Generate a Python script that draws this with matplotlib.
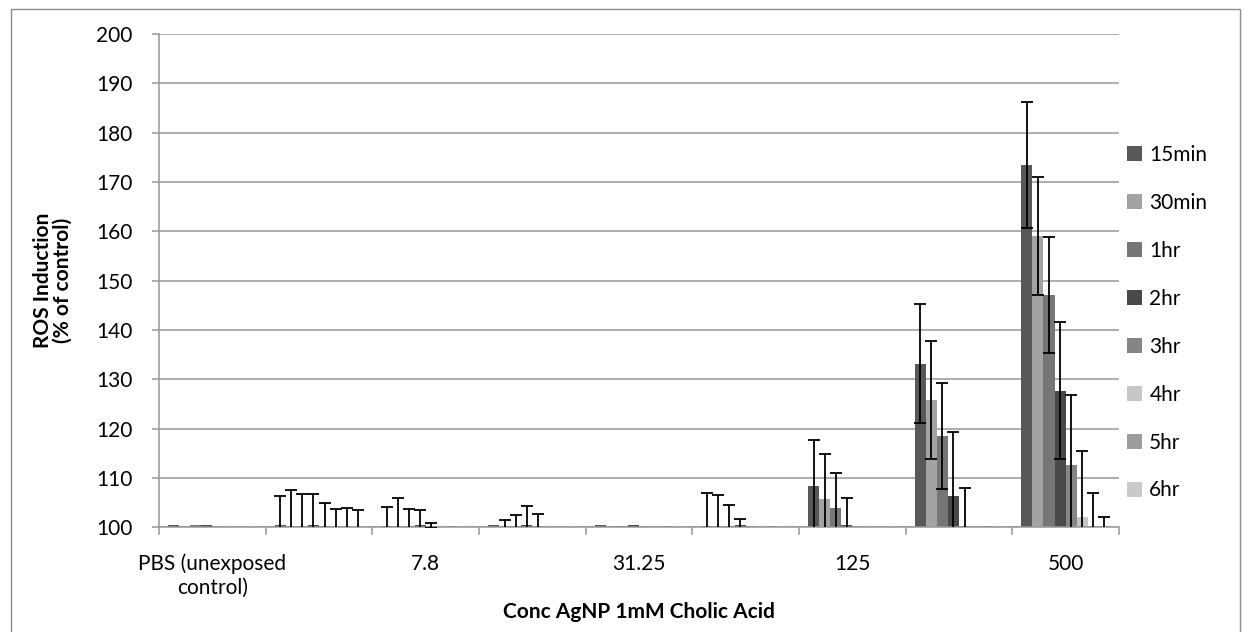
import numpy as np
import matplotlib.pyplot as plt
from matplotlib.patches import Rectangle

plt.rcParams['font.family'] = ['Lato', 'DejaVu Sans']

# categories (only every other label is shown in the original chart)
categories = ['PBS (unexposed\ncontrol)', '', '7.8', '', '31.25', '', '125', '', '500']
series = ['15min', '30min', '1hr', '2hr', '3hr', '4hr', '5hr', '6hr']
colors = ['#585858', '#a3a3a3', '#767676', '#494949', '#858585', '#c6c6c6', '#9c9c9c', '#c9c9c9']

# values (% of control), one list per time point
v_15min = [100.4, 100.4, 100.3, 100.5, 100.4, 100.3, 108.4, 133.2, 173.4]
v_30min = [100.3, 100.3, 100.3, 100.3, 100.3, 100.3, 105.7, 125.8, 159.1]
v_1hr = [100.4, 100.3, 100.3, 100.3, 100.3, 100.3, 104.0, 118.5, 147.1]
v_2hr = [100.4, 100.4, 100.4, 100.4, 100.5, 100.4, 100.4, 106.3, 127.7]
v_3hr = [100.3, 100.3, 100.3, 100.3, 100.3, 100.3, 100.3, 100.3, 112.7]
v_4hr = [100.3, 100.3, 100.3, 100.3, 100.3, 100.3, 100.3, 100.3, 102.0]
v_5hr = [100.3, 100.3, 100.3, 100.3, 100.3, 100.3, 100.3, 100.3, 100.3]
v_6hr = [100.3, 100.3, 100.3, 100.3, 100.3, 100.3, 100.3, 100.3, 100.3]

# error bar sizes
e_15min = [0, 5.9, 3.9, 0, 0, 6.6, 9.2, 12.1, 12.8]
e_30min = [0, 7.2, 5.6, 1.1, 0, 6.2, 9.2, 12.0, 12.0]
e_1hr = [0, 6.4, 3.4, 2.2, 0, 4.3, 7.1, 10.7, 11.8]
e_2hr = [0, 6.4, 3.1, 3.9, 0, 1.2, 5.5, 13.0, 13.9]
e_3hr = [0, 4.7, 0.5, 2.4, 0, 0, 0, 7.6, 14.1]
e_4hr = [0, 3.5, 0, 0, 0, 0, 0, 0, 13.5]
e_5hr = [0, 3.6, 0, 0, 0, 0, 0, 0, 6.7]
e_6hr = [0, 3.2, 0, 0, 0, 0, 0, 0, 1.8]

values = [v_15min, v_30min, v_1hr, v_2hr, v_3hr, v_4hr, v_5hr, v_6hr]
errors = [e_15min, e_30min, e_1hr, e_2hr, e_3hr, e_4hr, e_5hr, e_6hr]

fig = plt.figure(figsize=(12.48, 6.32), dpi=100)
ax = fig.add_axes([159 / 1248, 1 - 527.3 / 632, 960 / 1248, (527.3 - 34) / 632])

x = np.arange(len(categories))
bw = 0.104
for i, (name, vals, errs) in enumerate(zip(series, values, errors)):
    pos = x + (i - 3.5) * bw
    ax.bar(pos, vals, width=bw, color=colors[i], label=name, zorder=2)
    errs = np.array(errs, dtype=float)
    m = errs > 0
    ax.errorbar(pos[m], np.array(vals)[m], yerr=errs[m], fmt='none', ecolor='black',
                elinewidth=1.3, capsize=4.3, capthick=1.3, zorder=3)

ax.set_ylim(100, 200)
ax.set_xlim(-0.5, len(categories) - 0.5)
ax.set_yticks(np.arange(100, 201, 10))
ax.yaxis.grid(True, color='#979797', linewidth=1.1, zorder=0)
ax.set_axisbelow(True)

ax.set_xticks(np.arange(-0.5, len(categories), 1))
ax.set_xticklabels([])
ax.set_xticks(x, minor=True)
ax.set_xticklabels(categories, minor=True)
ax.tick_params(axis='x', which='major', length=6, color='#979797', width=1.1, direction='out')
ax.tick_params(axis='x', which='minor', length=0, pad=19, labelsize=15)
ax.tick_params(axis='y', length=5, color='#979797', width=1.1, pad=14, labelsize=15)

for s in ['top', 'right']:
    ax.spines[s].set_visible(False)
for s in ['left', 'bottom']:
    ax.spines[s].set_color('#979797')
    ax.spines[s].set_linewidth(1.1)

ax.set_xlabel('Conc AgNP 1mM Cholic Acid', fontsize=15, fontweight='bold', labelpad=3)
ax.set_ylabel('ROS Induction\n(% of control)', fontsize=15, fontweight='bold', labelpad=17,
              linespacing=0.95)

ax.legend(loc='upper left', bbox_to_anchor=(1127 / 1248, 1 - 145 / 632),
          bbox_transform=fig.transFigure, frameon=False, fontsize=15,
          handlelength=0.72, handleheight=0.72, handletextpad=0.35,
          labelspacing=1.34, borderpad=0, borderaxespad=0)

# outer chart border
fig.patches.append(Rectangle((11 / 1248, -0.05), 1229 / 1248, 1.05 - 9 / 632,
                             transform=fig.transFigure, fill=False,
                             edgecolor='#8a8a8a', linewidth=1.0))

fig.savefig('out.png', dpi=100)
